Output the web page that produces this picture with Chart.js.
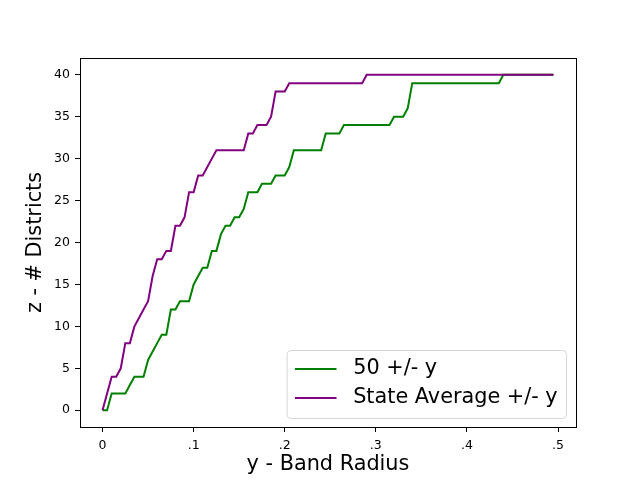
<!DOCTYPE html>
<html>
<head>
<meta charset="utf-8">
<script src="https://cdn.jsdelivr.net/npm/chart.js@4/dist/chart.umd.min.js"></script>
<style>
  body { margin: 0; background: #fff; }
  canvas { display: block; }
</style>
</head>
<body>
<canvas id="bandChart" width="640" height="480"></canvas>
<script>
// band radius y (x axis)
const radius = [
  0, 0.005, 0.01, 0.015, 0.02, 0.025, 0.03, 0.035, 0.04, 0.045,
  0.05, 0.055, 0.06, 0.065, 0.07, 0.075, 0.08, 0.085, 0.09, 0.095,
  0.1, 0.105, 0.11, 0.115, 0.12, 0.125, 0.13, 0.135, 0.14, 0.145,
  0.15, 0.155, 0.16, 0.165, 0.17, 0.175, 0.18, 0.185, 0.19, 0.195,
  0.2, 0.205, 0.21, 0.215, 0.22, 0.225, 0.23, 0.235, 0.24, 0.245,
  0.25, 0.255, 0.26, 0.265, 0.27, 0.275, 0.28, 0.285, 0.29, 0.295,
  0.3, 0.305, 0.31, 0.315, 0.32, 0.325, 0.33, 0.335, 0.34, 0.345,
  0.35, 0.355, 0.36, 0.365, 0.37, 0.375, 0.38, 0.385, 0.39, 0.395,
  0.4, 0.405, 0.41, 0.415, 0.42, 0.425, 0.43, 0.435, 0.44, 0.445,
  0.45, 0.455, 0.46, 0.465, 0.47, 0.475, 0.48, 0.485, 0.49, 0.495
];

// 50 +/- y
const fiftyBand = [
  0, 0, 2, 2, 2, 2, 3, 4, 4, 4,
  6, 7, 8, 9, 9, 12, 12, 13, 13, 13,
  15, 16, 17, 17, 19, 19, 21, 22, 22, 23,
  23, 24, 26, 26, 26, 27, 27, 27, 28, 28,
  28, 29, 31, 31, 31, 31, 31, 31, 31, 33,
  33, 33, 33, 34, 34, 34, 34, 34, 34, 34,
  34, 34, 34, 34, 35, 35, 35, 36, 39, 39,
  39, 39, 39, 39, 39, 39, 39, 39, 39, 39,
  39, 39, 39, 39, 39, 39, 39, 39, 40, 40,
  40, 40, 40, 40, 40, 40, 40, 40, 40, 40
];

// State Average +/- y
const stateBand = [
  0, 2, 4, 4, 5, 8, 8, 10, 11, 12,
  13, 16, 18, 18, 19, 19, 22, 22, 23, 26,
  26, 28, 28, 29, 30, 31, 31, 31, 31, 31,
  31, 31, 33, 33, 34, 34, 34, 35, 38, 38,
  38, 39, 39, 39, 39, 39, 39, 39, 39, 39,
  39, 39, 39, 39, 39, 39, 39, 39, 40, 40,
  40, 40, 40, 40, 40, 40, 40, 40, 40, 40,
  40, 40, 40, 40, 40, 40, 40, 40, 40, 40,
  40, 40, 40, 40, 40, 40, 40, 40, 40, 40,
  40, 40, 40, 40, 40, 40, 40, 40, 40, 40
];

const xTicks = [0, 0.1, 0.2, 0.3, 0.4, 0.5];
const xTickLabels = ["0", ".1", ".2", ".3", ".4", ".5"];
const yTicks = [0, 5, 10, 15, 20, 25, 30, 35, 40];

const FONT = "'DejaVu Sans', sans-serif";

function toPoints(ys) {
    return radius.map((r, i) => ({ x: r, y: ys[i] }));
}

/* =========================
      FRAME + LEGEND
========================= */

const framePlugin = {
    id: "frame",
    afterDraw(chart) {
        const { ctx, chartArea: a } = chart;
        ctx.save();
        ctx.strokeStyle = "#000";
        ctx.lineWidth = 1;
        ctx.strokeRect(Math.round(a.left) + 0.5, Math.round(a.top) + 0.5,
            Math.round(a.right - a.left), Math.round(a.bottom - a.top));
        ctx.restore();
    }
};

const boxLegend = {
    id: "boxLegend",
    afterDraw(chart) {
        const { ctx, chartArea: a } = chart;
        const fs = 20.8;
        const sets = chart.data.datasets;
        ctx.save();
        ctx.font = fs + "px " + FONT;
        const textW = Math.max(...sets.map(d => ctx.measureText(d.label).width));
        const pad = 0.4 * fs, handle = 2 * fs, gap = 0.8 * fs, rowH = 29;
        const w = pad * 2 + handle + gap + textW;
        const h = 68;
        const right = a.right - 10, bottom = a.bottom - 9;
        const left = right - w, top = bottom - h;

        ctx.beginPath();
        ctx.roundRect(left + 0.5, top + 0.5, w, h, 4);
        ctx.fillStyle = "rgba(255,255,255,0.8)";
        ctx.fill();
        ctx.strokeStyle = "#d6d6d6";
        ctx.lineWidth = 1;
        ctx.stroke();

        sets.forEach((d, i) => {
            const cy = top + 19 + i * rowH;
            ctx.beginPath();
            ctx.moveTo(left + pad, cy);
            ctx.lineTo(left + pad + handle, cy);
            ctx.strokeStyle = d.borderColor;
            ctx.lineWidth = 2;
            ctx.stroke();
            ctx.fillStyle = "#000";
            ctx.textBaseline = "middle";
            ctx.fillText(d.label, left + pad + handle + gap, cy);
        });
        ctx.restore();
    }
};

/* =========================
      CREATE CHART
========================= */

new Chart(document.getElementById("bandChart"), {
    type: "line",
    data: {
        datasets: [
            {
                label: "50 +/- y",
                data: toPoints(fiftyBand),
                borderColor: "#008000",
                borderWidth: 2,
                pointRadius: 0,
                tension: 0,
                fill: false,
                order: 1
            },
            {
                label: "State Average +/- y",
                data: toPoints(stateBand),
                borderColor: "#800080",
                borderWidth: 2,
                pointRadius: 0,
                tension: 0,
                fill: false,
                order: 0
            }
        ]
    },
    options: {
        responsive: false,
        animation: false,
        devicePixelRatio: 1,
        layout: {
            padding: { top: 58, right: 64, left: 0, bottom: 0 }
        },
        plugins: {
            legend: { display: false },
            tooltip: { enabled: false }
        },
        scales: {
            x: {
                type: "linear",
                min: -0.02475,
                max: 0.51975,
                afterBuildTicks: s => { s.ticks = xTicks.map(v => ({ value: v })); },
                afterFit: s => { s.height = 53; },
                grid: {
                    drawOnChartArea: false,
                    drawTicks: true,
                    tickLength: 5,
                    tickColor: "#000"
                },
                border: { display: true, color: "#000", width: 1 },
                ticks: {
                    color: "#000",
                    padding: 6,
                    maxRotation: 0,
                    font: { family: FONT, size: 12.5 },
                    callback: v => xTickLabels[xTicks.indexOf(v)]
                },
                title: {
                    display: true,
                    text: "y - Band Radius",
                    color: "#000",
                    font: { family: FONT, size: 20.8 },
                    padding: { top: 0, bottom: 3 }
                }
            },
            y: {
                min: -2,
                max: 42,
                afterBuildTicks: s => { s.ticks = yTicks.map(v => ({ value: v })); },
                afterFit: s => { s.width = 80; },
                grid: {
                    drawOnChartArea: false,
                    drawTicks: true,
                    tickLength: 5,
                    tickColor: "#000"
                },
                border: { display: true, color: "#000", width: 1 },
                ticks: {
                    color: "#000",
                    padding: 5,
                    font: { family: FONT, size: 12.5 }
                },
                title: {
                    display: true,
                    text: "z - # Districts",
                    color: "#000",
                    font: { family: FONT, size: 20.8 },
                    padding: { top: 23, bottom: 0 }
                }
            }
        }
    },
    plugins: [framePlugin, boxLegend]
});
</script>
</body>
</html>
